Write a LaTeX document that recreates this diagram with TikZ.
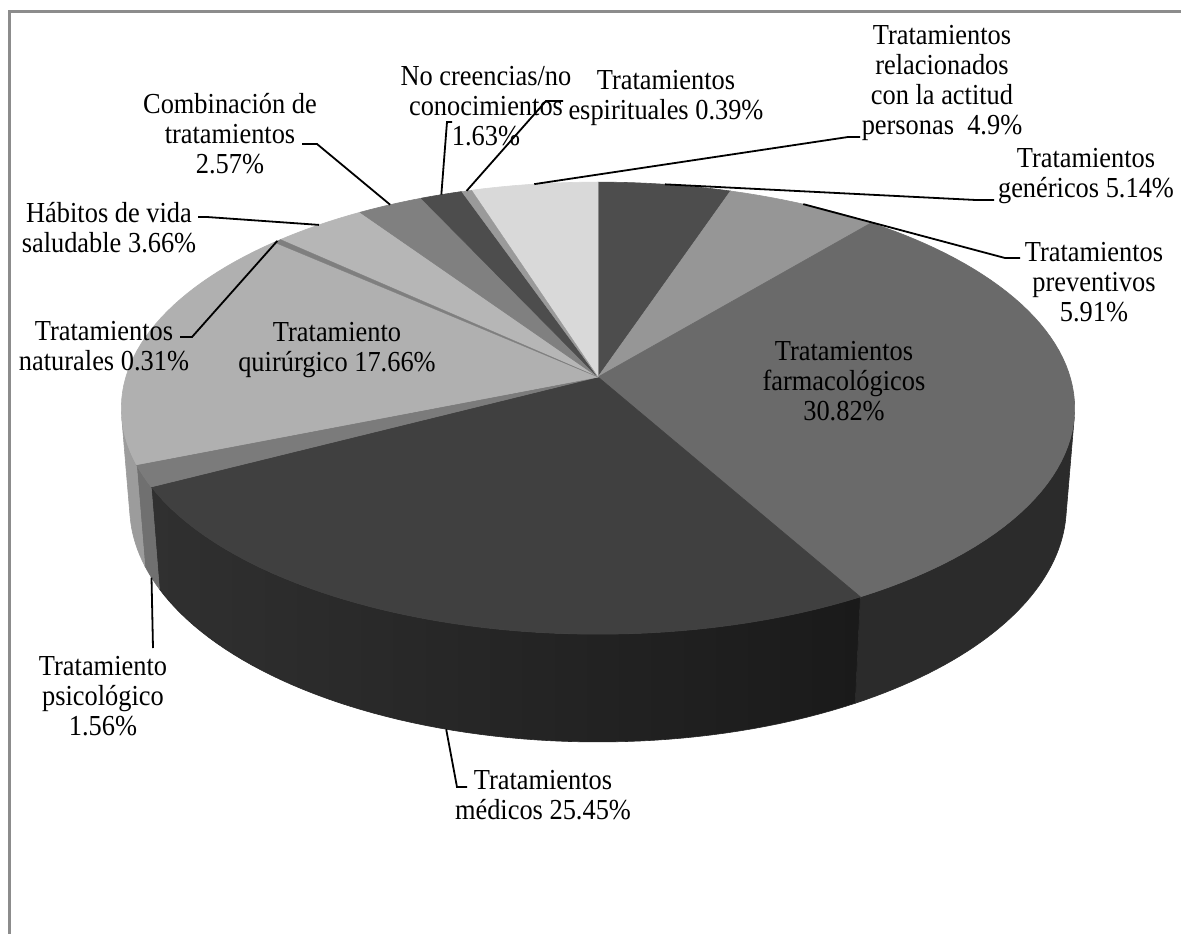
\documentclass[tikz,border=0pt]{standalone}
\usepackage{fontspec}
\setmainfont{Liberation Serif}[FakeStretch=0.91]
\definecolor{cGen}{HTML}{4D4D4D}
\definecolor{cPrev}{HTML}{969696}
\definecolor{cFarm}{HTML}{6A6A6A}
\definecolor{cMed}{HTML}{404040}
\definecolor{cPsi}{HTML}{7B7B7B}
\definecolor{cQui}{HTML}{B0B0B0}
\definecolor{cNat}{HTML}{7F7F7F}
\definecolor{cHab}{HTML}{B6B6B6}
\definecolor{cComb}{HTML}{808080}
\definecolor{cNoc}{HTML}{4D4D4D}
\definecolor{cEsp}{HTML}{9A9A9A}
\definecolor{cAct}{HTML}{D9D9D9}
\definecolor{sFarm}{HTML}{2B2B2B}
\definecolor{sMedA}{HTML}{303030}
\definecolor{sMedB}{HTML}{1A1A1A}
\definecolor{sPsi}{HTML}{707070}
\definecolor{sQui}{HTML}{9C9C9C}
\definecolor{frameg}{HTML}{8C8C8C}
\newcommand\pdepth{0.2382}
\newcommand\pietop[4]{%
  \filldraw[fill=#1,draw=#1,line width=0.6pt,line join=round] (O) --
    plot[domain=#2:#3,samples=#4,variable=\t] ({px(\t,0)},{py(\t,0)}) -- cycle;}
\newcommand\sidepath[3]{%
    plot[domain=#1:#2,samples=#3,variable=\t] ({px(\t,0)},{py(\t,0)}) --
    plot[domain=#2:#1,samples=#3,variable=\t] ({px(\t,\pdepth)},{py(\t,\pdepth)}) -- cycle}
\begin{document}
\begin{tikzpicture}[x=1pt,y=-1pt,
  declare function={
    pd(\t,\h)=6.407+0.8828*cos(\t)+0.4697*\h;
    px(\t,\h)=598+3025*sin(\t)/pd(\t,\h);
    py(\t,\h)=377+3025*(0.8828*\h-0.4697*cos(\t))/pd(\t,\h);
  },
  lbl/.style={font=\fontsize{29}{30}\selectfont, align=center, inner sep=0pt},
  lead/.style={line width=1.8pt, black, line join=miter},
]
\useasboundingbox (0,0) rectangle (1181,934);
\fill[white] (0,0) rectangle (1181,934);
\draw[frameg, line width=2.6pt] (9.5,934) -- (9.5,11.5) -- (1181,11.5);
\coordinate (O) at (598,377);
% sides
\filldraw[fill=sFarm,draw=sFarm,line width=0.6pt] \sidepath{100.2}{150.732}{40};
\shade[left color=sMedA,right color=sMedB] \sidepath{150.732}{242.352}{60};
\draw[sMedA!60!sMedB,line width=0.6pt] \sidepath{150.732}{242.352}{60};
\filldraw[fill=sPsi,draw=sPsi,line width=0.6pt] \sidepath{242.352}{247.968}{6};
\filldraw[fill=sQui,draw=sQui,line width=0.6pt] \sidepath{247.968}{259.8}{10};
% tops
\pietop{cGen}{0}{18.504}{12}
\pietop{cPrev}{18.504}{39.78}{12}
\pietop{cFarm}{39.78}{150.732}{60}
\pietop{cMed}{150.732}{242.352}{50}
\pietop{cPsi}{242.352}{247.968}{5}
\pietop{cQui}{247.968}{311.544}{36}
\pietop{cHab}{312.66}{325.836}{10}
\pietop{cComb}{325.836}{335.088}{6}
\pietop{cNoc}{335.088}{340.956}{5}
\pietop{cAct}{342.36}{360}{10}
\filldraw[fill=cNat,draw=cNat,line width=0.3pt] (O) -- plot[domain=311.544:312.66,samples=3,variable=\t] ({px(\t,0)},{py(\t,0)}) -- cycle;
\filldraw[fill=cEsp,draw=cEsp,line width=0.3pt] (O) -- plot[domain=340.956:342.36,samples=3,variable=\t] ({px(\t,0)},{py(\t,0)}) -- cycle;
% anchors on the pie
\coordinate (pAct) at ({px(351.18,0)},{py(351.18,0)});
\coordinate (pGen) at ({px(9.252,0)},{py(9.252,0)});
\coordinate (pPrev) at ({px(29.142,0)},{py(29.142,0)});
\coordinate (pEsp) at ({px(341.658,0)},{py(341.658,0)});
\coordinate (pNoc) at ({px(338.022,0)},{py(338.022,0)});
\coordinate (pComb) at ({px(330.462,0)},{py(330.462,0)});
\coordinate (pHab) at ({px(319.248,0)},{py(319.248,0)});
\coordinate (pNat) at ({px(312.102,0)},{py(312.102,0)});
\coordinate (pPsi) at ({px(245.16,\pdepth)},{py(245.16,\pdepth)});
\coordinate (pMed) at ({px(196.542,\pdepth)},{py(196.542,\pdepth)});
% labels
\node[lbl] (lAct) at (942,83) {Tratamientos\\relacionados\\con la actitud\\personas\ \ 4.9\%};
\node[lbl] (lGen) at (1086,176) {Tratamientos\\genéricos 5.14\%};
\node[lbl] (lPrev) at (1094,282) {Tratamientos\\preventivos\\5.91\%};
\node[lbl] (lFarm) at (844,381) {Tratamientos\\farmacológicos\\30.82\%};
\node[lbl] (lEsp) at (666,98) {Tratamientos\\espirituales 0.39\%};
\node[lbl] (lNoc) at (486,106) {No creencias/no\\conocimientos\\1.63\%};
\node[lbl] (lComb) at (230,134) {Combinación de\\tratamientos\\2.57\%};
\node[lbl] (lHab) at (109,228) {Hábitos de vida\\saludable 3.66\%};
\node[lbl] (lNat) at (104,346) {Tratamientos\\naturales 0.31\%};
\node[lbl] (lQui) at (337,350) {Tratamiento\\quirúrgico 17.66\%};
\node[lbl] (lPsi) at (103,696) {Tratamiento\\psicológico\\1.56\%};
\node[lbl] (lMed) at (543,795) {Tratamientos\\médicos 25.45\%};
% leader elbows and ends
\coordinate (eAct) at (848,137); \coordinate (tAct) at (860,137);
\coordinate (eGen) at (976,200); \coordinate (tGen) at (994,200);
\coordinate (ePrev) at (1005,258); \coordinate (tPrev) at (1020,258);
\coordinate (eEsp) at (546,101); \coordinate (tEsp) at (563,101);
\coordinate (eNoc) at (447,122); \coordinate (tNoc) at (452,122);
\coordinate (eComb) at (317,144); \coordinate (tComb) at (302,144);
\coordinate (eHab) at (207,217); \coordinate (tHab) at (198,217);
\coordinate (eNat) at (192,337); \coordinate (tNat) at (180,337);
\coordinate (tPsi) at (153,648);
\coordinate (eMed) at (457,787); \coordinate (tMed) at (467,787);
\draw[lead] (pAct) -- (eAct) -- (tAct);
\draw[lead] (pGen) -- (eGen) -- (tGen);
\draw[lead] (pPrev) -- (ePrev) -- (tPrev);
\draw[lead] (pEsp) -- (eEsp) -- (tEsp);
\draw[lead] (pNoc) -- (eNoc) -- (tNoc);
\draw[lead] (pComb) -- (eComb) -- (tComb);
\draw[lead] (pHab) -- (eHab) -- (tHab);
\draw[lead] (pNat) -- (eNat) -- (tNat);
\draw[lead] (pPsi) -- (tPsi);
\draw[lead] (pMed) -- (eMed) -- (tMed);
\end{tikzpicture}
\end{document}
